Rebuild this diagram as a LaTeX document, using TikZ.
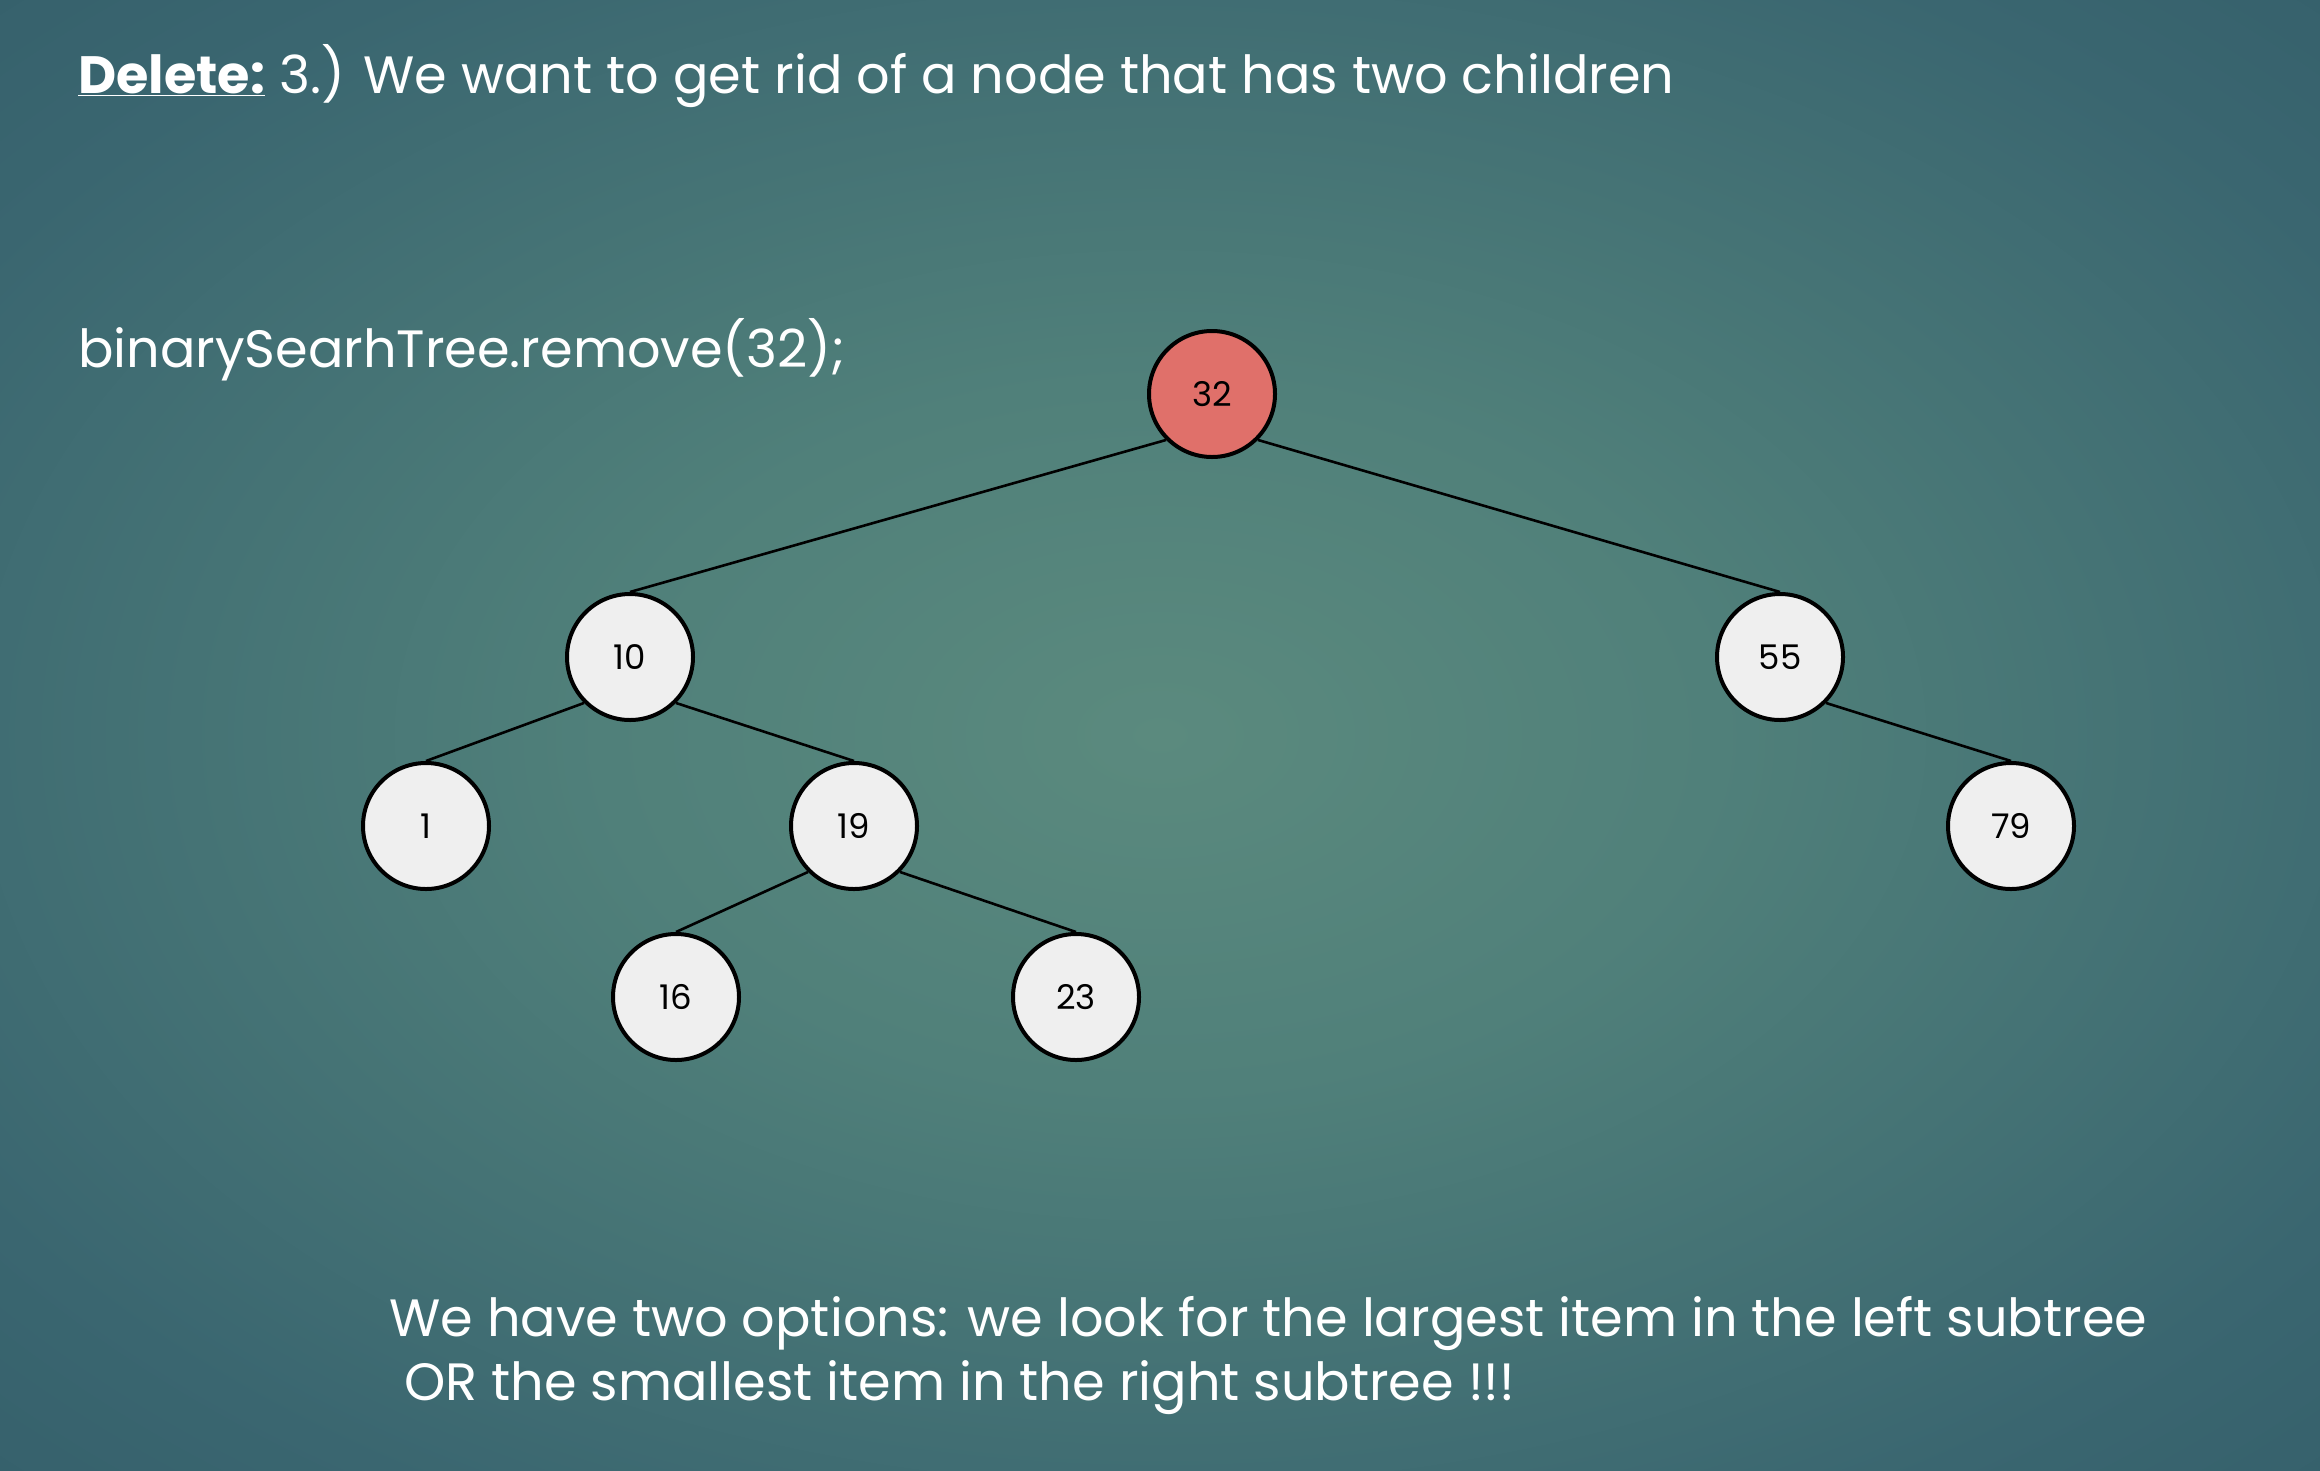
\documentclass[tikz,border=0pt]{standalone}
\usepackage{fontspec}
\setmainfont{Poppins}
\definecolor{bgin}{HTML}{5B8A7E}
\definecolor{bgmid}{HTML}{50807A}
\definecolor{bgmid2}{HTML}{3A6670}
\definecolor{bgout}{HTML}{2C5462}
\definecolor{nodegray}{HTML}{EFEFEF}
\definecolor{nodered}{HTML}{E0706A}
\pgfdeclareradialshading{bgshade}{\pgfpoint{0bp}{0bp}}{color(0bp)=(bgin); color(12bp)=(bgmid); color(30bp)=(bgmid2); color(50bp)=(bgout)}
\begin{document}
\begin{tikzpicture}[x=1pt,y=-1pt,
  bst/.style={circle, draw=black, line width=4pt, fill=nodegray, minimum size=126pt, inner sep=0pt, font=\fontsize{34}{40}\selectfont},
  hot/.style={bst, fill=nodered},
  edge/.style={line width=2.6pt, black},
  txt/.style={text=white, anchor=base west, inner sep=0pt, font=\fontsize{52.5}{60}\selectfont}]
\useasboundingbox (0,0) rectangle (2320,1470);
\shade[shading=bgshade] (0,0) rectangle (2320,1470);
% texts
\node[txt] (title) at (78,93) {\textbf{\underline{Delete:}} 3.) We want to get rid of a node that has two children};
\node[txt] (code) at (78,367) {binarySearhTree.remove(32);};
\node[txt] (opt1) at (389,1336) {We have two options: we look for the largest item in the left subtree};
\node[txt] (opt2) at (404,1400) {OR the smallest item in the right subtree !!!};
% nodes
\node[hot] (n32) at (1212,394) {32};
\node[bst] (n10) at (630,657) {10};
\node[bst] (n55) at (1780,657) {55};
\node[bst] (n1) at (426,826) {1};
\node[bst] (n19) at (854,826) {19};
\node[bst] (n79) at (2011,826) {79};
\node[bst] (n16) at (676,997) {16};
\node[bst] (n23) at (1076,997) {23};
% edges
\draw[edge] (n32.south west) -- (n10.north);
\draw[edge] (n32.south east) -- (n55.north);
\draw[edge] (n10.south west) -- (n1.north);
\draw[edge] (n10.south east) -- (n19.north);
\draw[edge] (n19.south west) -- (n16.north);
\draw[edge] (n19.south east) -- (n23.north);
\draw[edge] (n55.south east) -- (n79.north);
\end{tikzpicture}
\end{document}
